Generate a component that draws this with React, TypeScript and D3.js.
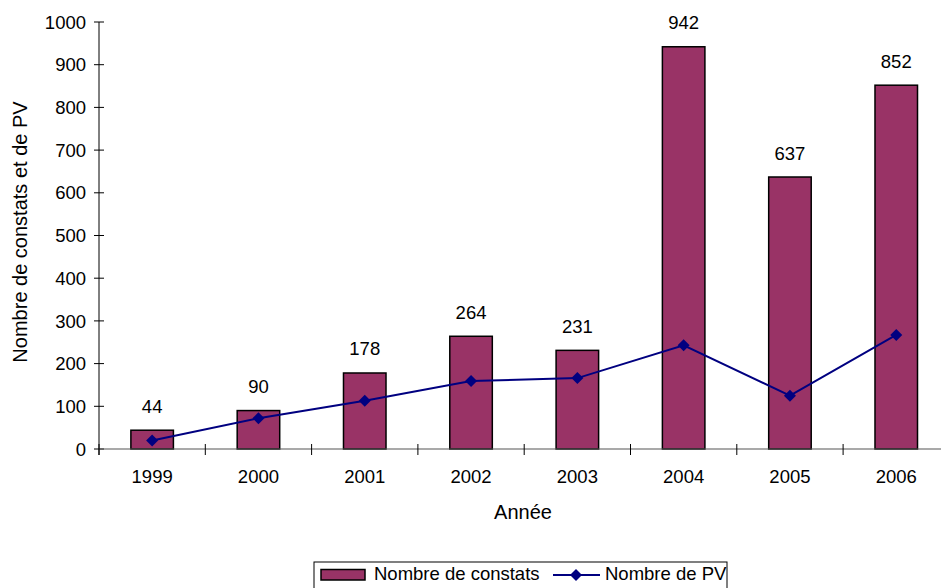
import React from "react";
import * as d3 from "d3";

const years = ["1999", "2000", "2001", "2002", "2003", "2004", "2005", "2006"];
const constats = [44, 90, 178, 264, 231, 942, 637, 852];
const pv = [20, 72, 113, 159, 166, 243, 125, 267];
const yTicks = [0, 100, 200, 300, 400, 500, 600, 700, 800, 900, 1000];

const W = 941;
const H = 588;
const left = 99;
const top = 22;
const bottom = 449;
const band = 106.3;
const right = left + band * years.length;

const FONT = "'Liberation Sans', Arial, sans-serif";
const BAR = "#993366";
const LINE = "#000080";
const FS = 18.5;
const TITLE_FS = 20;

export default function App() {
  const x = d3.scaleBand<string>().domain(years).range([left, right]).paddingInner(0).paddingOuter(0);
  const y = d3.scaleLinear().domain([0, 1000]).range([bottom, top]);
  const barW = x.bandwidth() * 0.4;
  const cx = (d: string) => (x(d) as number) + x.bandwidth() / 2;
  const line = d3
    .line<number>()
    .x((_, i) => cx(years[i]))
    .y((v) => y(v));
  const diamond = (px: number, py: number, r: number) =>
    `M${px},${py - r}L${px + r},${py}L${px},${py + r}L${px - r},${py}Z`;
  const boundaries = d3.range(years.length + 1).map((i) => left + i * x.bandwidth());

  return (
    <svg
      width={W}
      height={H}
      style={{ position: "absolute", left: 0, top: 0, background: "#fff" }}
      fontFamily={FONT}
    >
      {/* bars */}
      {years.map((yr, i) => (
        <rect
          key={yr}
          x={cx(yr) - barW / 2}
          y={y(constats[i])}
          width={barW}
          height={bottom - y(constats[i])}
          fill={BAR}
          stroke="#000"
          strokeWidth={1.5}
        />
      ))}
      {/* value labels */}
      {years.map((yr, i) => (
        <text
          key={"l" + yr}
          x={cx(yr)}
          y={y(constats[i]) - 17.5}
          textAnchor="middle"
          fontSize={FS}
          fill="#000"
        >
          {constats[i]}
        </text>
      ))}
      {/* y axis */}
      <line x1={left} x2={left} y1={top} y2={bottom + 6} stroke="#000" strokeWidth={1} />
      {yTicks.map((t) => (
        <g key={"y" + t}>
          <line x1={left - 5} x2={left + 5} y1={y(t)} y2={y(t)} stroke="#000" />
          <text x={left - 13} y={y(t)} dy="0.36em" textAnchor="end" fontSize={FS}>
            {t}
          </text>
        </g>
      ))}
      {/* x axis */}
      <line x1={left} x2={W} y1={bottom} y2={bottom} stroke="#555" strokeWidth={1.2} />
      {boundaries.map((b, i) => (
        <line key={"xt" + i} x1={b} x2={b} y1={bottom - 5} y2={bottom + 6} stroke="#000" />
      ))}
      {years.map((yr) => (
        <text key={"xl" + yr} x={cx(yr)} y={482.5} textAnchor="middle" fontSize={FS}>
          {yr}
        </text>
      ))}
      {/* line series */}
      <path d={line(pv) || ""} fill="none" stroke={LINE} strokeWidth={2} />
      {pv.map((v, i) => (
        <path key={"m" + i} d={diamond(cx(years[i]), y(v), 6)} fill={LINE} />
      ))}
      {/* axis titles */}
      <text x={523} y={518.5} textAnchor="middle" fontSize={TITLE_FS}>
        Année
      </text>
      <text
        transform={`translate(27,232) rotate(-90)`}
        textAnchor="middle"
        fontSize={TITLE_FS}
      >
        Nombre de constats et de PV
      </text>
      {/* legend */}
      <rect x={314} y={562} width={413} height={40} fill="#fff" stroke="#000" strokeWidth={1} />
      <rect x={321} y={569.5} width={44} height={10.5} fill={BAR} stroke="#000" strokeWidth={1.5} />
      <text x={374} y={580} fontSize={FS}>
        Nombre de constats
      </text>
      <line x1={553} x2={600} y1={575} y2={575} stroke={LINE} strokeWidth={2} />
      <path d={diamond(576, 575, 6)} fill={LINE} />
      <text x={605} y={580} fontSize={FS}>
        Nombre de PV
      </text>
    </svg>
  );
}
